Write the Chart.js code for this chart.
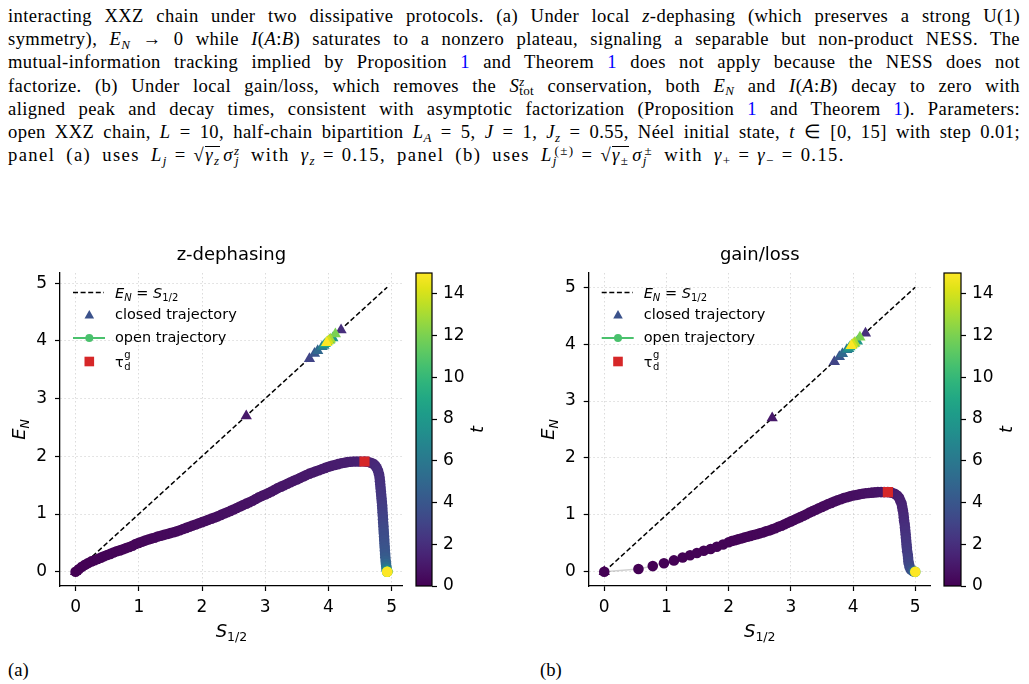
<!DOCTYPE html>
<html>
<head>
<meta charset="utf-8">
<script src="https://cdn.jsdelivr.net/npm/chart.js@4.4.0/dist/chart.umd.min.js"></script>
<style>
  body { margin: 0; background: #fff; width: 1029px; height: 684px; overflow: hidden; position: relative; }
  #cap { position: absolute; left: 8px; top: 4px; width: 1012px; font-family: 'Liberation Serif', serif; font-size: 18.6px; line-height: 23.2px; letter-spacing: 0.4px; color: #000; }
  #cap div { height: 23.2px; text-align: justify; text-align-last: justify; }
  #cap div.last { text-align-last: left; word-spacing: 5px; letter-spacing: 1.4px; }
  .eq { margin: 0 7px; }
  .ref { color: #0000ff; }
  .sb { font-size: 0.7em; position: relative; top: 0.3em; line-height: 0; }
  .sp { font-size: 0.7em; position: relative; top: -0.45em; line-height: 0; }
  .ov { position: relative; }
  .ov::before { content: ''; position: absolute; left: 0; right: 0; top: 2px; border-top: 1px solid #000; }
  .lbl { position: absolute; top: 658px; font-family: 'Liberation Serif', serif; font-size: 18.6px; line-height: 23.2px; }
  canvas { position: absolute; }
</style>
</head>
<body>
<div id="cap">
  <div>interacting XXZ chain under two dissipative protocols. (a) Under local <i>z</i>-dephasing (which preserves a strong U(1)</div>
  <div>symmetry), <i>E<span class="sb">N</span></i> &rarr; 0 while <i>I</i>(<i>A</i>:<i>B</i>) saturates to a nonzero plateau, signaling a separable but non-product NESS. The</div>
  <div>mutual-information tracking implied by Proposition <span class="ref">1</span> and Theorem <span class="ref">1</span> does not apply because the NESS does not</div>
  <div>factorize. (b) Under local gain/loss, which removes the <i>S</i><span class="sp"><i>z</i></span><span class="sb" style="margin-left:-0.42em">tot</span> conservation, both <i>E<span class="sb">N</span></i> and <i>I</i>(<i>A</i>:<i>B</i>) decay to zero with</div>
  <div>aligned peak and decay times, consistent with asymptotic factorization (Proposition <span class="ref">1</span> and Theorem <span class="ref">1</span>). Parameters:</div>
  <div>open XXZ chain, <i>L</i> = 10, half-chain bipartition <i>L<span class="sb">A</span></i> = 5, <i>J</i> = 1, <i>J<span class="sb">z</span></i> = 0.55, N&eacute;el initial state, <i>t</i> &isin; [0, 15] with step 0.01;</div>
  <div class="last">panel (a) uses <i>L<span class="sb">j</span></i><span class="eq">=</span>&radic;<span class="ov"><i>&gamma;<span class="sb">z</span></i></span>&#8202;<i>&sigma;</i><span class="sp"><i>z</i></span><span class="sb" style="margin-left:-0.42em"><i>j</i></span> with <i>&gamma;<span class="sb">z</span></i><span class="eq">=</span>0.15, panel (b) uses <i>L</i><span class="sb"><i>j</i></span><span class="sp" style="margin-left:-0.25em">(&plusmn;)</span><span class="eq">=</span>&radic;<span class="ov"><i>&gamma;</i><span class="sb">&plusmn;</span></span>&#8202;<i>&sigma;</i><span class="sb"><i>j</i></span><span class="sp" style="margin-left:-0.25em">&plusmn;</span> with <i>&gamma;</i><span class="sb">+</span><span class="eq">=</span><i>&gamma;</i><span class="sb">&minus;</span><span class="eq">=</span>0.15.</div>
</div>
<div class="lbl" style="left:8px">(a)</div>
<div class="lbl" style="left:540px">(b)</div>

<canvas id="chartA" width="410" height="430" style="left:0px;top:230px"></canvas>
<canvas id="cbarA" width="95" height="430" style="left:405px;top:230px"></canvas>
<canvas id="chartB" width="410" height="430" style="left:528px;top:230px"></canvas>
<canvas id="cbarB" width="96" height="430" style="left:933px;top:230px"></canvas>

<script>
// ticks
const xTicks = [0, 1, 2, 3, 4, 5];
const yTicks = [0, 1, 2, 3, 4, 5];
const cbTicks = [0, 2, 4, 6, 8, 10, 12, 14];

// closed (unitary) trajectory, sampled every t = 1
const closedS = [0, 2.70, 4.20, 3.70, 3.78, 3.83, 3.90, 3.93, 4.07, 3.95, 4.02, 3.98, 4.11, 4.03, 4.00, 3.97];
const closedE = [0, 2.70, 4.19, 3.69, 3.78, 3.83, 3.90, 3.92, 4.05, 3.95, 4.01, 3.98, 4.12, 4.03, 4.00, 3.97];
const closedT = [0, 1, 2, 3, 4, 5, 6, 7, 8, 9, 10, 11, 12, 13, 14, 15];

// panel (a): z-dephasing, open trajectory (S_1/2, E_N, t)
const openSA = [
  0.00, 0.05, 0.10, 0.15, 0.20, 0.25, 0.30, 0.35, 0.40, 0.45, 0.50, 0.55, 0.60, 0.65, 0.70, 0.75, 0.80, 0.85, 0.90, 0.95,
  1.00, 1.05, 1.10, 1.15, 1.20, 1.25, 1.30, 1.35, 1.40, 1.45, 1.50, 1.55, 1.60, 1.65, 1.70, 1.75, 1.80, 1.85, 1.90, 1.95,
  2.00, 2.05, 2.10, 2.15, 2.20, 2.25, 2.30, 2.35, 2.40, 2.45, 2.50, 2.55, 2.60, 2.65, 2.70, 2.75, 2.80, 2.85, 2.90, 2.95,
  3.00, 3.05, 3.10, 3.15, 3.20, 3.25, 3.30, 3.35, 3.40, 3.45, 3.50, 3.55, 3.60, 3.65, 3.70, 3.75, 3.80, 3.85, 3.90, 3.95,
  4.00, 4.05, 4.10, 4.15, 4.20, 4.25, 4.30, 4.35, 4.40, 4.45, 4.50, 4.57,
  4.62, 4.67, 4.71, 4.74, 4.765, 4.785, 4.80, 4.81, 4.815, 4.82, 4.825, 4.83, 4.835, 4.84, 4.845, 4.85, 4.853, 4.856, 4.86, 4.863,
  4.866, 4.87, 4.873, 4.876, 4.88, 4.883, 4.886, 4.89, 4.893, 4.897, 4.90, 4.905, 4.91, 4.915, 4.92, 4.925, 4.93,
  4.93, 4.93, 4.93, 4.93];
const openEA = [
  0.000, 0.045, 0.085, 0.120, 0.150, 0.180, 0.200, 0.220, 0.245, 0.270, 0.290, 0.310, 0.335, 0.355, 0.370, 0.390, 0.410, 0.430, 0.450, 0.480,
  0.500, 0.520, 0.540, 0.560, 0.575, 0.590, 0.610, 0.625, 0.640, 0.655, 0.670, 0.685, 0.700, 0.720, 0.740, 0.760, 0.780, 0.800, 0.820, 0.840,
  0.860, 0.880, 0.900, 0.920, 0.940, 0.960, 0.985, 1.010, 1.030, 1.055, 1.080, 1.105, 1.130, 1.155, 1.180, 1.205, 1.230, 1.260, 1.290, 1.315,
  1.340, 1.365, 1.390, 1.420, 1.450, 1.475, 1.500, 1.525, 1.550, 1.575, 1.600, 1.625, 1.650, 1.675, 1.700, 1.720, 1.740, 1.760, 1.780, 1.800,
  1.820, 1.835, 1.850, 1.865, 1.880, 1.890, 1.900, 1.905, 1.910, 1.910, 1.910, 1.910,
  1.905, 1.890, 1.870, 1.840, 1.800, 1.750, 1.690, 1.630, 1.570, 1.510, 1.450, 1.390, 1.330, 1.270, 1.210, 1.150, 1.090, 1.030, 0.970, 0.910,
  0.850, 0.790, 0.730, 0.670, 0.610, 0.550, 0.490, 0.430, 0.370, 0.310, 0.250, 0.190, 0.140, 0.090, 0.050, 0.020, 0.010,
  0.000, 0.000, 0.000, 0.000];
const openTA = [
  0.00, 0.01, 0.02, 0.03, 0.04, 0.05, 0.06, 0.07, 0.08, 0.09, 0.10, 0.11, 0.12, 0.13, 0.14, 0.16, 0.17, 0.18, 0.19, 0.20,
  0.22, 0.23, 0.24, 0.25, 0.27, 0.28, 0.29, 0.31, 0.32, 0.33, 0.35, 0.36, 0.37, 0.39, 0.40, 0.42, 0.43, 0.45, 0.46, 0.48,
  0.49, 0.51, 0.52, 0.54, 0.55, 0.57, 0.58, 0.60, 0.61, 0.63, 0.64, 0.66, 0.67, 0.69, 0.70, 0.72, 0.73, 0.75, 0.76, 0.78,
  0.79, 0.81, 0.82, 0.84, 0.85, 0.87, 0.88, 0.90, 0.91, 0.93, 0.94, 0.96, 0.97, 0.99, 1.00, 1.02, 1.04, 1.05, 1.07, 1.09,
  1.10, 1.12, 1.14, 1.16, 1.18, 1.20, 1.22, 1.24, 1.26, 1.28, 1.31, 1.35,
  1.42, 1.50, 1.58, 1.66, 1.74, 1.82, 1.90, 1.98, 2.06, 2.14, 2.22, 2.30, 2.38, 2.46, 2.54, 2.62, 2.70, 2.78, 2.86, 2.95,
  3.05, 3.15, 3.25, 3.35, 3.45, 3.55, 3.65, 3.75, 3.85, 4.00, 4.20, 4.50, 4.90, 5.40, 6.00, 6.80, 7.80,
  9.00, 11.0, 13.0, 15.0];
const tauSA = [4.57];
const tauEA = [1.91];
const diagA = [0, 4.93];

// panel (b): gain/loss, open trajectory (S_1/2, E_N, t)
const openSB = [
  0.00, 0.55, 0.78, 0.96, 1.12, 1.26, 1.38, 1.49, 1.60, 1.71, 1.81, 1.91, 2.00,
  2.05, 2.10, 2.15, 2.20, 2.25, 2.30, 2.35, 2.40, 2.45, 2.50, 2.55, 2.60, 2.65, 2.70, 2.75, 2.80, 2.85, 2.90, 2.95, 3.00,
  3.05, 3.10, 3.15, 3.20, 3.25, 3.30, 3.35, 3.40, 3.45, 3.50, 3.55, 3.60, 3.65, 3.70, 3.75, 3.80, 3.85, 3.90, 3.95, 4.00,
  4.05, 4.10, 4.15, 4.20, 4.25, 4.30, 4.35, 4.40, 4.45, 4.50, 4.56,
  4.62, 4.67, 4.71, 4.74, 4.76, 4.78, 4.79, 4.80, 4.81, 4.815, 4.82, 4.83, 4.835, 4.84, 4.845, 4.85, 4.855, 4.86, 4.865, 4.87,
  4.88, 4.885, 4.89, 4.90, 4.91, 4.93, 4.96, 4.98, 5.00, 5.00];
const openEB = [
  0.000, 0.050, 0.100, 0.150, 0.200, 0.250, 0.290, 0.330, 0.370, 0.400, 0.440, 0.480, 0.520,
  0.540, 0.555, 0.570, 0.585, 0.600, 0.615, 0.630, 0.645, 0.660, 0.675, 0.690, 0.710, 0.725, 0.745, 0.765, 0.790, 0.810, 0.835, 0.860, 0.885,
  0.910, 0.935, 0.960, 0.985, 1.010, 1.040, 1.065, 1.090, 1.115, 1.140, 1.165, 1.190, 1.210, 1.235, 1.255, 1.275, 1.295, 1.310, 1.325, 1.340,
  1.350, 1.360, 1.370, 1.380, 1.385, 1.390, 1.395, 1.400, 1.400, 1.400, 1.400,
  1.390, 1.370, 1.340, 1.300, 1.250, 1.200, 1.140, 1.080, 1.020, 0.960, 0.900, 0.840, 0.780, 0.720, 0.660, 0.600, 0.540, 0.480, 0.420, 0.360,
  0.300, 0.240, 0.180, 0.130, 0.080, 0.040, 0.015, 0.005, 0.000, 0.000];
const openTB = [
  0.00, 0.01, 0.02, 0.03, 0.04, 0.05, 0.06, 0.07, 0.08, 0.09, 0.10, 0.11, 0.12,
  0.13, 0.14, 0.14, 0.15, 0.16, 0.16, 0.17, 0.18, 0.18, 0.19, 0.20, 0.21, 0.21, 0.22, 0.23, 0.24, 0.25, 0.26, 0.27, 0.28,
  0.29, 0.30, 0.31, 0.32, 0.33, 0.34, 0.35, 0.37, 0.38, 0.39, 0.41, 0.42, 0.44, 0.46, 0.47, 0.49, 0.51, 0.53, 0.55, 0.57,
  0.59, 0.62, 0.64, 0.67, 0.70, 0.73, 0.76, 0.80, 0.84, 0.88, 0.92,
  1.00, 1.08, 1.16, 1.24, 1.32, 1.40, 1.48, 1.56, 1.64, 1.72, 1.80, 1.88, 1.96, 2.04, 2.12, 2.20, 2.28, 2.36, 2.45, 2.55,
  2.65, 2.75, 2.90, 3.05, 3.25, 3.50, 3.90, 5.00, 9.00, 15.0];
const tauSB = [4.56];
const tauEB = [1.40];
const diagB = [0, 5.0];

const T_MAX = 15;
const FONT = 'DejaVu Sans';

// viridis colour map
const VIR = ['#440154', '#471365', '#482475', '#463480', '#414487', '#3b528b', '#355f8d', '#2f6c8e', '#2a788e', '#25848e', '#21918c',
  '#1e9c89', '#22a884', '#2fb47c', '#44bf70', '#5ec962', '#7ad151', '#9bd93c', '#bddf26', '#dfe318', '#fde725'];

function hexRgb(h) {
  return [parseInt(h.slice(1, 3), 16), parseInt(h.slice(3, 5), 16), parseInt(h.slice(5, 7), 16)];
}

function viridis(f) {
  f = Math.max(0, Math.min(1, f));
  const p = f * (VIR.length - 1);
  const i = Math.min(VIR.length - 2, Math.floor(p));
  const r = p - i;
  const a = hexRgb(VIR[i]), b = hexRgb(VIR[i + 1]);
  const c = a.map((v, k) => Math.round(v + (b[k] - v) * r));
  return 'rgb(' + c.join(',') + ')';
}

function pts(xs, ys) {
  return xs.map((x, i) => ({ x: x, y: ys[i] }));
}

function setFont(ctx, p) {
  ctx.font = (p[1] ? 'italic ' : '') + p[2] + 'px "' + FONT + '"';
}

// pieces are [text, italic, size, dy]; drawn left to right, centred on cx
function drawMath(ctx, pieces, cx, baseY) {
  let w = 0;
  pieces.forEach(p => { setFont(ctx, p); w += ctx.measureText(p[0]).width; });
  drawLeftMath(ctx, pieces, cx - w / 2, baseY);
}

function drawLeftMath(ctx, pieces, x, baseY) {
  ctx.textAlign = 'left';
  ctx.textBaseline = 'alphabetic';
  pieces.forEach(p => {
    setFont(ctx, p);
    ctx.fillText(p[0], x, baseY + p[3]);
    x += ctx.measureText(p[0]).width;
  });
}

// axis labels and the legend inside the axes
const decor = {
  id: 'decor',
  afterDraw(chart) {
    const ctx = chart.ctx;
    const a = chart.chartArea;
    ctx.save();
    ctx.fillStyle = '#000';

    drawMath(ctx, [['S', true, 18, 0], ['1/2', false, 12.5, 4]], (a.left + a.right) / 2, a.bottom + 51);

    ctx.save();
    ctx.translate(a.left - 35, (a.top + a.bottom) / 2);
    ctx.rotate(-Math.PI / 2);
    drawMath(ctx, [['E', true, 18, 0], ['N', true, 12.5, 4]], 0, 0);
    ctx.restore();

    const L = a.left, rows = [19.5, 42, 65, 88.5].map(v => a.top + v);
    const mx = L + 29.3, tx = L + 55;

    ctx.strokeStyle = '#000';
    ctx.lineWidth = 1.5;
    ctx.setLineDash([5, 2.6]);
    ctx.beginPath(); ctx.moveTo(L + 13, rows[0]); ctx.lineTo(L + 44, rows[0]); ctx.stroke();
    ctx.setLineDash([]);

    ctx.fillStyle = '#3b528b';
    ctx.beginPath();
    ctx.moveTo(mx, rows[1] - 5); ctx.lineTo(mx - 4.8, rows[1] + 3.6); ctx.lineTo(mx + 4.8, rows[1] + 3.6);
    ctx.closePath(); ctx.fill();

    ctx.strokeStyle = '#4ac16d';
    ctx.lineWidth = 2;
    ctx.beginPath(); ctx.moveTo(L + 13, rows[2]); ctx.lineTo(L + 45, rows[2]); ctx.stroke();
    ctx.fillStyle = '#4ac16d';
    ctx.beginPath(); ctx.arc(mx, rows[2], 4, 0, Math.PI * 2); ctx.fill();

    ctx.fillStyle = '#d62728';
    ctx.fillRect(mx - 4.8, rows[3] - 4.8, 9.6, 9.6);

    ctx.fillStyle = '#000';
    drawLeftMath(ctx, [['E', true, 14.5, 0], ['N', true, 10, 3], [' = ', false, 14.5, 0], ['S', true, 14.5, 0], ['1/2', false, 10, 3]], tx, rows[0] + 5);
    ctx.font = '14.5px "' + FONT + '"';
    ctx.textBaseline = 'middle';
    ctx.fillText('closed trajectory', tx, rows[1]);
    ctx.fillText('open trajectory', tx, rows[2]);
    drawLeftMath(ctx, [['\u03c4', false, 14.5, 0]], tx, rows[3] + 5);
    ctx.font = '14.5px "' + FONT + '"';
    const tw = ctx.measureText('\u03c4').width;
    drawLeftMath(ctx, [['g', false, 10, 0]], tx + tw + 0.5, rows[3] - 3.5);
    drawLeftMath(ctx, [['d', false, 10, 0]], tx + tw + 0.5, rows[3] + 8.5);
    ctx.restore();
  }
};

function makePanel(id, o) {
  new Chart(document.getElementById(id), {
    type: 'scatter',
    data: {
      datasets: [
        { label: 'tau', data: pts(o.tauS, o.tauE), pointStyle: 'rect', pointRadius: 7.2,
          pointBackgroundColor: '#d62728', pointBorderWidth: 0, order: 0 },
        { label: 'open', data: pts(o.openS, o.openE), pointRadius: 5.3,
          pointBackgroundColor: o.openT.map(t => viridis(t / T_MAX)), pointBorderWidth: 0, order: 1 },
        { label: 'openLine', data: pts(o.openS, o.openE), showLine: true, pointRadius: 0,
          borderColor: 'rgba(0,0,0,0.18)', borderWidth: 1.5, order: 2 },
        { label: 'closed', data: pts(closedS, closedE), pointStyle: 'triangle', pointRadius: 6.5,
          pointBackgroundColor: closedT.map(t => viridis(t / T_MAX)), pointBorderWidth: 0, order: 3 },
        { label: 'diag', data: pts(o.diag, o.diag), showLine: true, pointRadius: 0,
          borderColor: '#000', borderWidth: 1.5, borderDash: [5, 2.6], order: 4 }
      ]
    },
    options: {
      responsive: false,
      animation: false,
      events: [],
      layout: { padding: { left: 0, right: o.padR, top: 0, bottom: 0 } },
      plugins: {
        legend: { display: false },
        tooltip: { enabled: false },
        title: {
          display: true, text: o.title, fullSize: false, color: '#000',
          font: { family: FONT, size: 18, weight: 'normal' },
          padding: { top: 14.2, bottom: 7.2 }
        }
      },
      scales: {
        x: {
          type: 'linear', min: o.lim[0], max: o.lim[1],
          afterBuildTicks: s => { s.ticks = xTicks.map(v => ({ value: v })); },
          afterFit: s => { s.height = 74; },
          grid: { color: 'rgba(0,0,0,0.14)', tickLength: 5, tickColor: '#000', tickWidth: 1.2 },
          border: { display: true, color: '#000', width: 1.3, dash: [1.5, 2.5] },
          ticks: { color: '#000', font: { family: FONT, size: 17 }, padding: 6, maxRotation: 0 }
        },
        y: {
          type: 'linear', min: o.lim[0], max: o.lim[1],
          afterBuildTicks: s => { s.ticks = yTicks.map(v => ({ value: v })); },
          afterFit: s => { s.width = o.yw; },
          grid: { color: 'rgba(0,0,0,0.14)', tickLength: 5, tickColor: '#000', tickWidth: 1.2 },
          border: { display: true, color: '#000', width: 1.3, dash: [1.5, 2.5] },
          ticks: { color: '#000', font: { family: FONT, size: 17 }, padding: 8 }
        }
      }
    },
    plugins: [decor]
  });
}

// colour bar: gradient over the chart area, t axis on the right
const cbarDecor = {
  id: 'cbarDecor',
  beforeDraw(chart) {
    const ctx = chart.ctx, a = chart.chartArea;
    const g = ctx.createLinearGradient(0, a.bottom, 0, a.top);
    VIR.forEach((c, i) => g.addColorStop(i / (VIR.length - 1), c));
    ctx.save();
    ctx.fillStyle = g;
    ctx.fillRect(a.left, a.top, a.right - a.left, a.bottom - a.top);
    ctx.restore();
  },
  afterDraw(chart) {
    const ctx = chart.ctx, a = chart.chartArea;
    ctx.save();
    ctx.strokeStyle = '#000';
    ctx.lineWidth = 1.2;
    ctx.strokeRect(a.left, a.top, a.right - a.left, a.bottom - a.top);
    ctx.translate(a.right + 51, (a.top + a.bottom) / 2);
    ctx.rotate(-Math.PI / 2);
    ctx.fillStyle = '#000';
    drawMath(ctx, [['t', true, 18, 0]], 0, 0);
    ctx.restore();
  }
};

function makeCbar(id, axisW) {
  new Chart(document.getElementById(id), {
    type: 'scatter',
    data: { datasets: [] },
    options: {
      responsive: false,
      animation: false,
      events: [],
      layout: { padding: { left: 11, top: 43, bottom: 74, right: 0 } },
      plugins: { legend: { display: false }, tooltip: { enabled: false } },
      scales: {
        x: { display: false, min: 0, max: 1 },
        y: {
          position: 'right', min: 0, max: T_MAX,
          afterBuildTicks: s => { s.ticks = cbTicks.map(v => ({ value: v })); },
          afterFit: s => { s.width = axisW; },
          grid: { drawOnChartArea: false, tickLength: 5, tickColor: '#000', tickWidth: 1.2 },
          border: { display: false },
          ticks: { color: '#000', font: { family: FONT, size: 17 }, padding: 6 }
        }
      }
    },
    plugins: [cbarDecor]
  });
}

makePanel('chartA', { title: 'z-dephasing', openS: openSA, openE: openEA, openT: openTA, tauS: tauSA, tauE: tauEA,
  diag: diagA, lim: [-0.2465, 5.1765], padR: 4, yw: 60 });
makePanel('chartB', { title: 'gain/loss', openS: openSB, openE: openEB, openT: openTB, tauS: tauSB, tauE: tauEB,
  diag: diagB, lim: [-0.25, 5.25], padR: 3, yw: 60.7 });
makeCbar('cbarA', 68);
makeCbar('cbarB', 68);
</script>
</body>
</html>
